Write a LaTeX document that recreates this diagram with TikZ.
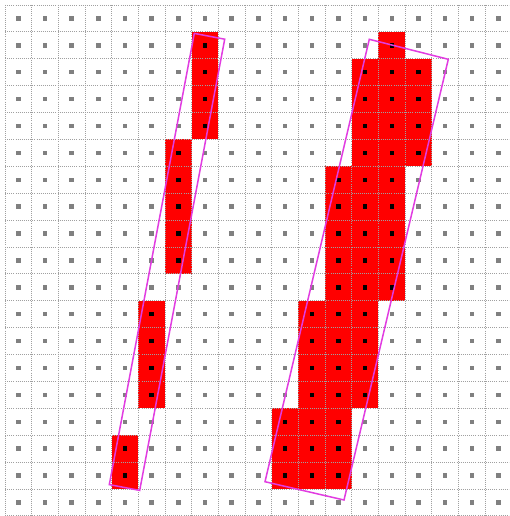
\documentclass[tikz,border=0pt]{standalone}
\definecolor{cellred}{RGB}{255,0,0}
\definecolor{gridgray}{RGB}{160,160,160}
\definecolor{dotgray}{RGB}{128,128,128}
\definecolor{boxmag}{RGB}{225,60,225}
\def\cw{26.67}
\def\ch{26.89}
\def\ds{4.4}
\newcommand\redblock[4]{%
  \foreach \cc in {#1,...,#2}{\foreach \rr in {#3,...,#4}{%
    \fill[cellred] ({5+\cc*\cw},{5+\rr*\ch}) rectangle ++(\cw,\ch);}}}
\newcommand\blackdots[4]{%
  \foreach \cc in {#1,...,#2}{\foreach \rr in {#3,...,#4}{%
    \fill[black] ({5+(\cc+0.5)*\cw-\ds/2},{5+(\rr+0.5)*\ch-\ds/2}) rectangle ++(\ds,\ds);}}}
\newcommand\allblocks[1]{%
  #1{7}{7}{1}{4}#1{6}{6}{5}{9}#1{5}{5}{11}{14}#1{4}{4}{16}{17}%
  #1{14}{14}{1}{1}#1{13}{15}{2}{5}#1{12}{14}{6}{10}#1{11}{13}{11}{14}#1{10}{12}{15}{17}}
\tikzset{
  gridline/.style={gridgray, line width=0.9pt, dash pattern=on 0.9pt off 1.2pt},
  rotbox/.style={boxmag, line width=1.5pt, line join=miter}
}
\begin{document}
\begin{tikzpicture}[x=1pt,y=-1pt]
\useasboundingbox (0,0) rectangle (509,516);
\fill[white] (0,0) rectangle (509,516);
\begin{scope}
\clip (0,0) rectangle (509,516);
% red cells
\allblocks{\redblock}
% grid
\foreach \k in {0,...,18}{\draw[gridline] ({5+\k*\cw},5) -- ({5+\k*\cw},516);}
\foreach \k in {0,...,19}{\draw[gridline] (5,{5+\k*\ch}) -- (509,{5+\k*\ch});}
% gray dots
\foreach \cc in {0,...,18}{\foreach \rr in {0,...,18}{%
  \fill[dotgray] ({5+(\cc+0.5)*\cw-\ds/2},{5+(\rr+0.5)*\ch-\ds/2}) rectangle ++(\ds,\ds);}}
% black dots on red cells
\allblocks{\blackdots}
\end{scope}
% rotated bounding boxes
\coordinate (la) at (194.3,33.4);
\coordinate (lb) at (224.7,39.2);
\coordinate (lc) at (139.7,490.4);
\coordinate (ld) at (109.3,484.6);
\draw[rotbox] (la) -- (lb) -- (lc) -- (ld) -- cycle;
\coordinate (ra) at (369.3,39.3);
\coordinate (rb) at (448.3,59.3);
\coordinate (rc) at (344,500);
\coordinate (rd) at (265,481.7);
\draw[rotbox] (ra) -- (rb) -- (rc) -- (rd) -- cycle;
\end{tikzpicture}
\end{document}
